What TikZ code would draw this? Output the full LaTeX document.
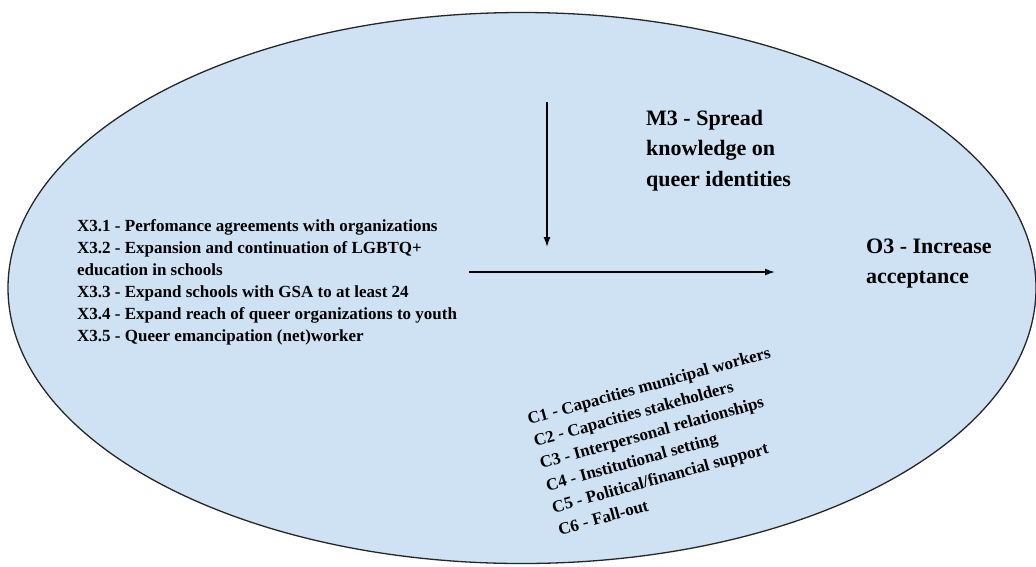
\documentclass[tikz,border=0pt]{standalone}
\usepackage{fontspec}
\setmainfont{Liberation Serif}
\usetikzlibrary{shapes.geometric, arrows.meta, positioning}
\usepackage{xcolor}
\definecolor{contextblue}{HTML}{CFE2F3}

\tikzset{
    label text/.style={font=\bfseries, align=left, inner sep=0pt, anchor=north west},
}

\begin{document}
\begin{tikzpicture}[x=1pt, y=-1pt, >={Latex[length=10pt, width=7pt]}]
    \useasboundingbox (0,0) rectangle (1036,566);
    \node[draw=black!85, line width=1.3pt, ellipse, fill=contextblue, minimum width=1028pt, minimum height=551pt, inner sep=0pt] (context) at (522,288) {};

    \node[label text, font=\bfseries\fontsize{17}{22}\selectfont] (factors) at (77,219) {X3.1 - Perfomance agreements with organizations\\X3.2 - Expansion and continuation of LGBTQ+\\education in schools\\X3.3 - Expand schools with GSA to at least 24\\X3.4 - Expand reach of queer organizations to youth\\X3.5 - Queer emancipation (net)worker};
    \node[label text, font=\bfseries\fontsize{22}{30.5}\selectfont] (mechanism) at (646,110) {M3 - Spread\\knowledge on\\queer identities};
    \node[label text, font=\bfseries\fontsize{22}{30}\selectfont] (outcome) at (866,239) {O3 - Increase\\acceptance};
    \node[label text, font=\bfseries\fontsize{17}{23}\selectfont, rotate=15.5] (conditions) at (526,413) {C1 - Capacities municipal workers\\C2 - Capacities stakeholders\\C3 - Interpersonal relationships\\C4 - Institutional setting\\C5 - Political/financial support\\C6 - Fall-out};

    \coordinate (mechtop) at (547,102);
    \coordinate (mechend) at (547,247);
    \coordinate (pathstart) at (469,272);
    \coordinate (pathend) at (775,272);

    \draw[->, line width=1.4pt] (mechtop) -- (mechend);
    \draw[->, line width=1.4pt] (pathstart) -- (pathend);
\end{tikzpicture}
\end{document}
